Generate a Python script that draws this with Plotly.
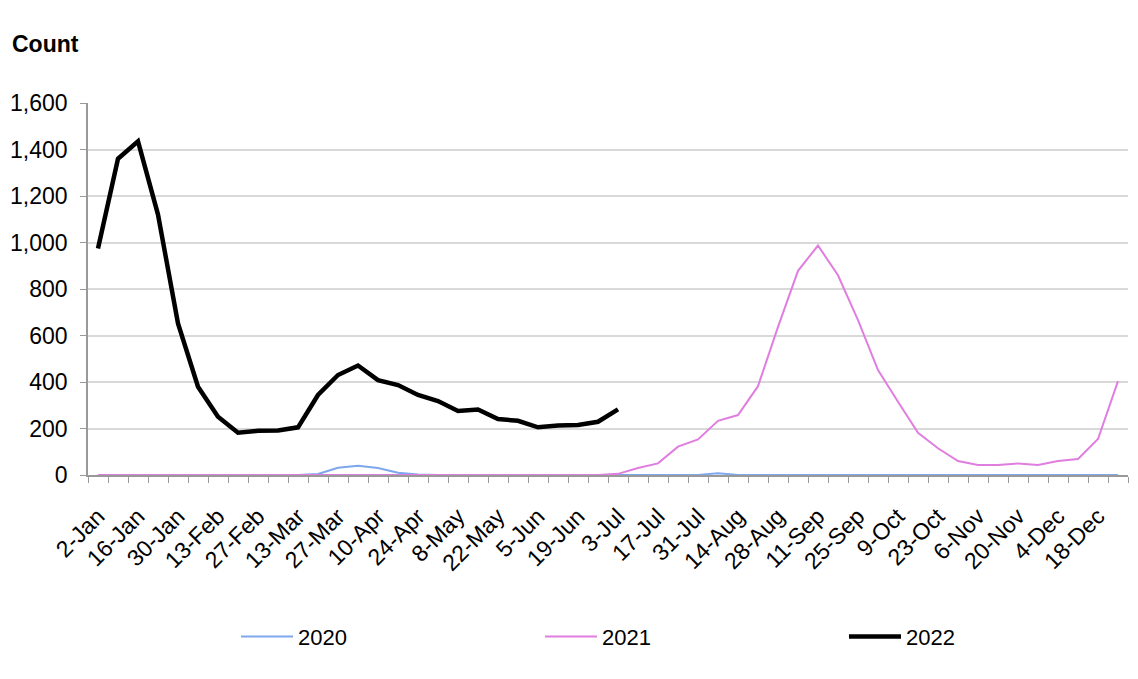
import plotly.graph_objects as go

weeks = ["2-Jan", "9-Jan", "16-Jan", "23-Jan", "30-Jan", "6-Feb", "13-Feb", "20-Feb", "27-Feb",
         "6-Mar", "13-Mar", "20-Mar", "27-Mar", "3-Apr", "10-Apr", "17-Apr", "24-Apr", "1-May",
         "8-May", "15-May", "22-May", "29-May", "5-Jun", "12-Jun", "19-Jun", "26-Jun", "3-Jul",
         "10-Jul", "17-Jul", "24-Jul", "31-Jul", "7-Aug", "14-Aug", "21-Aug", "28-Aug", "4-Sep",
         "11-Sep", "18-Sep", "25-Sep", "2-Oct", "9-Oct", "16-Oct", "23-Oct", "30-Oct", "6-Nov",
         "13-Nov", "20-Nov", "27-Nov", "4-Dec", "11-Dec", "18-Dec", "25-Dec"]

y2020 = [0, 0, 0, 0, 0, 0, 0, 0, 0, 0, 0, 4, 31, 40, 30, 10, 2, 0, 0, 0, 0, 0, 0, 0, 0, 0,
         0, 0, 0, 0, 0, 8, 0, 0, 0, 0, 0, 0, 0, 0, 0, 0, 0, 0, 0, 0, 0, 0, 0, 0, 0, 0]

y2021 = [0, 0, 0, 0, 0, 0, 0, 0, 0, 0, 0, 0, 0, 0, 0, 0, 0, 0, 0, 0, 0, 0, 0, 0, 0, 0,
         5, 30, 50, 122, 153, 233, 258, 382, 637, 878, 987, 859, 666, 451, 315, 182, 115,
         60, 43, 43, 50, 43, 60, 69, 155, 404]

y2022 = [974, 1360, 1435, 1120, 652, 380, 251, 182, 190, 191, 205, 344, 430, 471, 408, 387,
         344, 318, 275, 282, 241, 233, 205, 213, 215, 229, 282]

tick_text = [w if i % 2 == 0 else "" for i, w in enumerate(weeks)]

FONT = "Liberation Sans, Arial, sans-serif"

fig = go.Figure()
fig.add_trace(go.Scatter(x=weeks, y=y2020, name="2020", mode="lines",
                         line=dict(color="#7fa7ee", width=2)))
fig.add_trace(go.Scatter(x=weeks, y=y2021, name="2021", mode="lines",
                         line=dict(color="#e07ee0", width=2)))
fig.add_trace(go.Scatter(x=weeks[:len(y2022)], y=y2022, name="2022", mode="lines",
                         line=dict(color="#000000", width=4.5)))

# page body has an 8px default margin, so the figure is drawn 8px smaller
fig.update_layout(
    width=1130, height=671,
    margin=dict(l=80, r=10, t=95, b=204, autoexpand=False),
    paper_bgcolor="white", plot_bgcolor="white",
    font=dict(family=FONT, size=22, color="#000000"),
    showlegend=True,
    legend=dict(orientation="h", x=0.1423, xanchor="left", y=-0.435, yanchor="middle",
                entrywidth=237, font=dict(size=22), itemwidth=52),
    annotations=[dict(text="<b>Count</b>", x=-78 / 1040, xref="paper",
                      y=(475 - 44) / 372, yref="paper", xanchor="left", yanchor="middle",
                      showarrow=False, font=dict(size=23))],
)

fig.update_xaxes(type="category", categoryorder="array", categoryarray=weeks,
                 range=[-0.5, len(weeks) - 0.5], automargin=False,
                 tickmode="array", tickvals=weeks, ticktext=tick_text,
                 tickson="boundaries", ticks="outside", ticklen=6, tickcolor="#999999",
                 tickangle=-45, tickfont=dict(size=23), ticklabelstandoff=17,
                 showline=True, linecolor="#999999", linewidth=1.5,
                 showgrid=False, zeroline=False)
fig.update_yaxes(range=[0, 1600], dtick=200, tickformat=",", automargin=False,
                 ticks="outside", ticklen=6, tickcolor="#999999",
                 tickfont=dict(size=23), ticklabelstandoff=8,
                 showline=True, linecolor="#999999", linewidth=1.5,
                 showgrid=True, gridcolor="#d9d9d9", gridwidth=1.5, zeroline=False)

fig.write_html("out.html")
